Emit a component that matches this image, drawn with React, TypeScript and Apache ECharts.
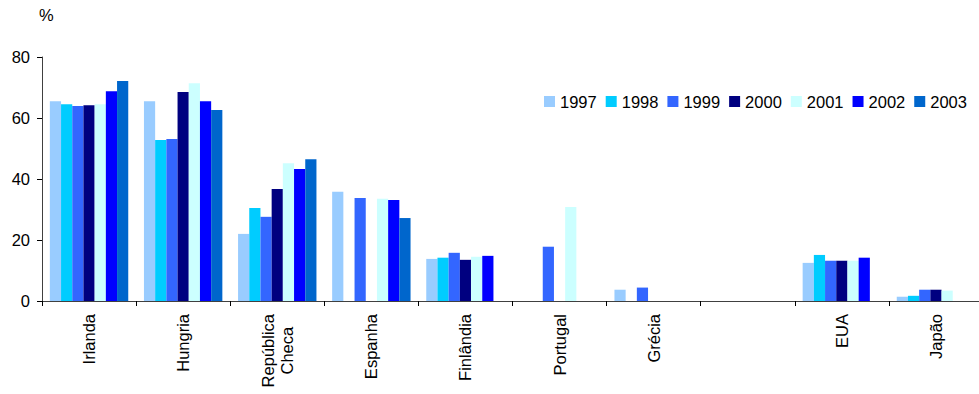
import React, { useEffect, useRef } from "react";
import * as echarts from "echarts";

const categories = ["Irlanda", "Hungria", "República\nCheca", "Espanha", "Finlândia", "Portugal", "Grécia", "", "EUA", "Japão"];
const years = ["1997", "1998", "1999", "2000", "2001", "2002", "2003"];
const colors = ["#99CCFF", "#00CCFF", "#3366FF", "#000080", "#CCFFFF", "#0000FF", "#0066CC"];

const v1997 = [65.5, 65.5, 22.0, 35.8, 13.8, null, 3.7, null, 12.5, 1.4];
const v1998 = [64.5, 52.8, 30.5, null, 14.2, null, null, null, 15.1, 1.7];
const v1999 = [63.9, 53.1, 27.6, 33.8, 15.8, 17.8, 4.4, null, 13.2, 3.7];
const v2000 = [64.2, 68.5, 36.7, null, 13.5, null, null, null, 13.2, 3.7];
const v2001 = [64.5, 71.4, 45.2, 33.5, 14.5, 30.8, null, null, 13.2, 3.4];
const v2002 = [68.8, 65.5, 43.3, 33.1, 14.8, null, null, null, 14.2, null];
const v2003 = [72.1, 62.6, 46.5, 27.2, null, null, null, null, null, null];

const seriesValues = [v1997, v1998, v1999, v2000, v2001, v2002, v2003];
const yTicks = [0, 20, 40, 60, 80];

export default function App() {
  const ref = useRef<HTMLDivElement>(null);
  useEffect(() => {
    if (!ref.current) return;
    const chart = echarts.init(ref.current, null, { renderer: "svg" });
    const font = "Liberation Sans, Arial, sans-serif";
    chart.setOption({
      animation: false,
      textStyle: { fontFamily: font },
      graphic: [
        {
          type: "text",
          left: 39,
          top: 6,
          style: { text: "%", fontSize: 16.5, fontFamily: font, fill: "#000" },
        },
      ],
      legend: {
        left: 544,
        top: 93,
        padding: 0,
        itemWidth: 11,
        itemHeight: 11,
        itemGap: 9,
        icon: "rect",
        textStyle: { fontSize: 16.5, color: "#000", fontFamily: font, padding: [0, 0, 0, 0] },
        data: years,
      },
      grid: { left: 42, top: 57, width: 941, bottom: 93, containLabel: false, outerBoundsMode: "none" },
      xAxis: {
        type: "category",
        data: categories,
        boundaryGap: true,
        axisLine: { lineStyle: { color: "#404040", width: 1 } },
        axisTick: { show: true, interval: 0, length: 5, lineStyle: { color: "#000" } },
        axisLabel: {
          interval: 0,
          rotate: 90,
          margin: 13,
          fontSize: 16.5,
          color: "#000",
          fontFamily: font,
          lineHeight: 19,
          formatter: (v: string) =>
            v
              .split("\n")
              .map((s) => "{c|" + s + "}")
              .join("\n"),
          rich: { c: { align: "center", fontSize: 16.5, fontFamily: font, color: "#000", lineHeight: 19 } },
        },
        splitLine: { show: false },
      },
      yAxis: {
        type: "value",
        min: yTicks[0],
        max: yTicks[yTicks.length - 1],
        interval: 20,
        axisLine: { show: true, lineStyle: { color: "#404040", width: 1 } },
        axisTick: { show: true, length: 5, lineStyle: { color: "#000" } },
        axisLabel: { fontSize: 16.5, color: "#000", margin: 12, fontFamily: font },
        splitLine: { show: false },
      },
      series: years.map((y, i) => ({
        name: y,
        type: "bar",
        data: seriesValues[i],
        barWidth: 11.2,
        barGap: "0%",
        itemStyle: { color: colors[i] },
      })),
    });
    return () => chart.dispose();
  }, []);
  return (
    <div
      ref={ref}
      style={{ position: "fixed", left: 0, top: 0, width: 979, height: 394, background: "#fff" }}
    />
  );
}
